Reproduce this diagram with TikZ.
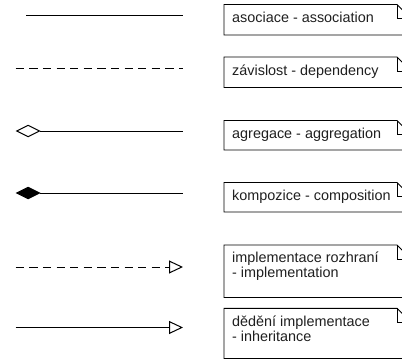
\documentclass[tikz,border=0pt]{standalone}
\usepackage{fontspec}
\setmainfont{Liberation Sans}
\usetikzlibrary{arrows.meta}
\tikzset{
  relline/.style={line width=1pt, draw=black},
  dashline/.style={relline, dash pattern=on 8.2pt off 5.4pt},
  boxline/.style={line width=0.9pt, draw=black, line join=miter},
  lbl/.style={inner sep=0pt, anchor=base west, font=\fontsize{14.4pt}{15.6pt}\selectfont, text=black!88},
  opendiamond/.style={{Diamond[open, length=25pt, width=12.5pt, line width=1pt]}-},
  filleddiamond/.style={{Diamond[length=25pt, width=12.5pt]}-},
  opentri/.style={-{Triangle[open, length=14pt, width=13pt, line width=1pt]}}
}
\newcommand\notebox[2]{%
  \draw[boxline] (224,#1) -- (397,#1) -- (411,{#1+14}) -- (411,#2) -- (224,#2) -- cycle;
  \draw[boxline] (397,#1) -- (397,{#1+14}) -- (411,{#1+14});
}
\begin{document}
\begin{tikzpicture}[x=1pt,y=-1pt]
\useasboundingbox (0,0) rectangle (402,359);
\clip (0,0) rectangle (402,359);

% connector samples
\coordinate (a1) at (26,15.5);   \coordinate (a2) at (183,15.5);
\coordinate (d1) at (15.7,68);   \coordinate (d2) at (183,68);
\coordinate (g1) at (15.7,131);  \coordinate (g2) at (183,131);
\coordinate (c1) at (15.7,193);  \coordinate (c2) at (183,193);
\coordinate (i1) at (15.7,267);  \coordinate (i2) at (183,267);
\coordinate (h1) at (15.7,327.5);\coordinate (h2) at (183,327.5);

\draw[relline] (a1) -- (a2);
\draw[dashline] (d1) -- (d2);
\draw[relline, opendiamond] (g1) -- (g2);
\draw[relline, filleddiamond] (c1) -- (c2);
\draw[dashline, opentri] (i1) -- (i2);
\draw[relline, opentri] (h1) -- (h2);

% notes
\notebox{4.5}{35}
\node[lbl] (t1) at (232,22) {asociace - association};
\notebox{57}{87.5}
\node[lbl] (t2) at (232,75) {závislost - dependency};
\notebox{120.5}{150}
\node[lbl] (t3) at (232,138.5) {agregace - aggregation};
\notebox{182.5}{212}
\node[lbl] (t4) at (232,200.5) {kompozice - composition};
\notebox{245}{297.5}
\node[lbl] (t5a) at (232,262) {implementace rozhraní};
\node[lbl] (t5b) at (232,277.6) {- implementation};
\notebox{308.3}{358.6}
\node[lbl] (t6a) at (232,326) {dědění implementace};
\node[lbl] (t6b) at (232,341.6) {- inheritance};
\end{tikzpicture}
\end{document}
